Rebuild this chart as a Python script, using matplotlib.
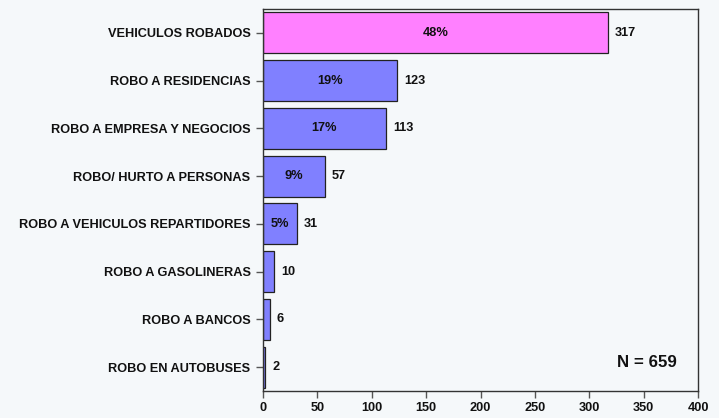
import matplotlib
matplotlib.use("Agg")
import matplotlib.pyplot as plt

categories = ["VEHICULOS ROBADOS", "ROBO A RESIDENCIAS", "ROBO A EMPRESA Y NEGOCIOS",
              "ROBO/ HURTO A PERSONAS", "ROBO A VEHICULOS REPARTIDORES",
              "ROBO A GASOLINERAS", "ROBO A BANCOS", "ROBO EN AUTOBUSES"]
values = [317, 123, 113, 57, 31, 10, 6, 2]
percents = ["48%", "19%", "17%", "9%", "5%", "", "", ""]
colors = ["#ff80ff"] + ["#8080ff"] * 7
xticks = [0, 50, 100, 150, 200, 250, 300, 350, 400]
total_label = "N = 659"

plt.rcParams['font.family'] = ['Liberation Sans', 'DejaVu Sans']
plt.rcParams['font.weight'] = 'bold'
bg = "#f5f8fa"
fs = 9.2

fig = plt.figure(figsize=(7.19, 4.18), dpi=100, facecolor=bg)
ax = fig.add_axes([0.3658, 0.0646, 0.605, 0.9139], facecolor=bg)

pos = list(range(len(categories)))
ax.barh(pos, values, height=0.86, color=colors, edgecolor="#222222", linewidth=0.9)
ax.set_ylim(7.5, -0.5)
ax.set_xlim(0, 400)
ax.set_yticks(pos)
ax.set_yticklabels(categories, fontsize=fs, fontweight='bold', color="#111111")
ax.set_xticks(xticks)
ax.set_xticklabels([str(t) for t in xticks], fontsize=fs, fontweight='bold', color="#111111")

for p, v, pc in zip(pos, values, percents):
    ax.text(v + 6.5, p, str(v), va='center', ha='left', fontsize=fs, fontweight='bold', color="#111111")
    if pc:
        ax.text(v / 2, p, pc, va='center', ha='center', fontsize=fs, fontweight='bold', color="#111111")

ax.text(380, 6.9, total_label, ha='right', va='center', fontsize=12.2, fontweight='bold', color="#111111")

for s in ax.spines.values():
    s.set_color("#333333")
    s.set_linewidth(1.0)
ax.tick_params(axis='y', color="#555555", length=5, width=1, pad=4)
ax.tick_params(axis='x', color="#555555", length=5, width=1, pad=3)

fig.savefig("out.png", dpi=100, facecolor=bg)
